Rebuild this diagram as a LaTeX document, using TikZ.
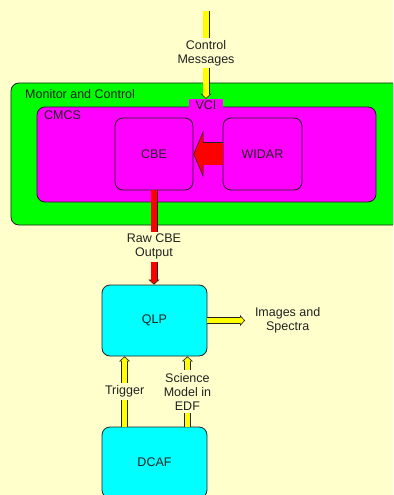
\documentclass[tikz,border=0pt]{standalone}
\usepackage{fontspec}
\setmainfont{Liberation Sans}
\usepackage{tikz}
\usetikzlibrary{positioning, arrows.meta}
\definecolor{vla-bg}{HTML}{FFFFCC}
\definecolor{vla-green}{HTML}{00FF00}
\definecolor{vla-magenta}{HTML}{FF00FF}
\definecolor{vla-cyan}{HTML}{00FFFF}
\definecolor{vla-yellow}{HTML}{FFFF00}
\definecolor{vla-red}{HTML}{FF0000}
\definecolor{vla-ink}{HTML}{222222}

\begin{document}
\begin{tikzpicture}[
    x=1bp, y=-1bp,
    every node/.style={font=\fontsize{12.5bp}{14bp}\selectfont, text=vla-ink},
    box/.style={draw=vla-ink, rounded corners=8bp, line width=0.8bp, inner sep=0pt},
    lbl/.style={fill=vla-bg, align=center, inner sep=2.5bp},
    yarr/.style={draw=vla-ink, line width=7bp,
                 -{Triangle[length=5bp, width=11bp, fill=vla-yellow, line width=0.6bp]},
                 postaction={draw=vla-yellow, line width=5.4bp, -, shorten >=4bp}},
    rarr/.style={draw=vla-ink, line width=7bp,
                 -{Triangle[length=5bp, width=11bp, fill=vla-red, line width=0.6bp]},
                 postaction={draw=vla-red, line width=5.4bp, -, shorten >=4bp}},
    bigarr/.style={draw=vla-ink, line width=23bp,
                 -{Triangle[length=10bp, width=47bp, fill=vla-red, line width=0.6bp]},
                 postaction={draw=vla-red, line width=21.6bp, -, shorten >=9bp}},
]
    \useasboundingbox (0,0) rectangle (393,495);
    \clip (0,0) rectangle (393,495);
    \fill[vla-bg] (0,0) rectangle (393,495);

    % Monitor and Control
    \node[box, fill=vla-green, minimum width=394bp, minimum height=142bp] (mc) at (208,154) {};
    \node[anchor=west, inner sep=0pt] (mclbl) at (25,94) {Monitor and Control};

    % CMCS with its VCI tab
    \node[box, fill=vla-magenta, minimum width=339bp, minimum height=95bp] (cmcs) at (206.5,154.5) {};
    \node[anchor=west, inner sep=0pt] (cmcslbl) at (44,115) {CMCS};
    \node[fill=vla-magenta, inner sep=0pt, minimum width=34bp, minimum height=12bp] (vci) at (206,105) {VCI};

    % Correlator
    \node[box, fill=vla-magenta, minimum width=78bp, minimum height=72bp] (cbe) at (154,154) {CBE};
    \node[box, fill=vla-magenta, minimum width=79bp, minimum height=72bp] (widar) at (262.5,154) {WIDAR};

    % Pipeline
    \node[box, fill=vla-cyan, minimum width=105bp, minimum height=71bp] (qlp) at (154.5,320.5) {QLP};
    \node[box, fill=vla-cyan, minimum width=105bp, minimum height=71bp] (dcaf) at (154.5,462.5) {DCAF};

    \coordinate (cmtop) at (206,11);
    \coordinate (imgend) at (245,320.5);

    % Arrows
    \draw[bigarr] (widar.west) -- (cbe.east);
    \draw[yarr] (cmtop) -- (vci.north) node[pos=0.48, lbl] {Control\\Messages};
    \draw[rarr] (cbe.south) -- (cbe.south |- qlp.north) node[pos=0.6, lbl] {Raw CBE\\Output};
    \draw[yarr] (qlp.east) -- (imgend) node[right, lbl, xshift=4bp] {Images and\\Spectra};
    \draw[yarr] ([xshift=23bp]dcaf.north west) -- ([xshift=23bp]qlp.south west)
        node[midway, lbl] {Trigger};
    \draw[yarr] ([xshift=-20bp]dcaf.north east) -- ([xshift=-20bp]qlp.south east)
        node[midway, lbl] {Science\\Model in\\EDF};
\end{tikzpicture}
\end{document}
